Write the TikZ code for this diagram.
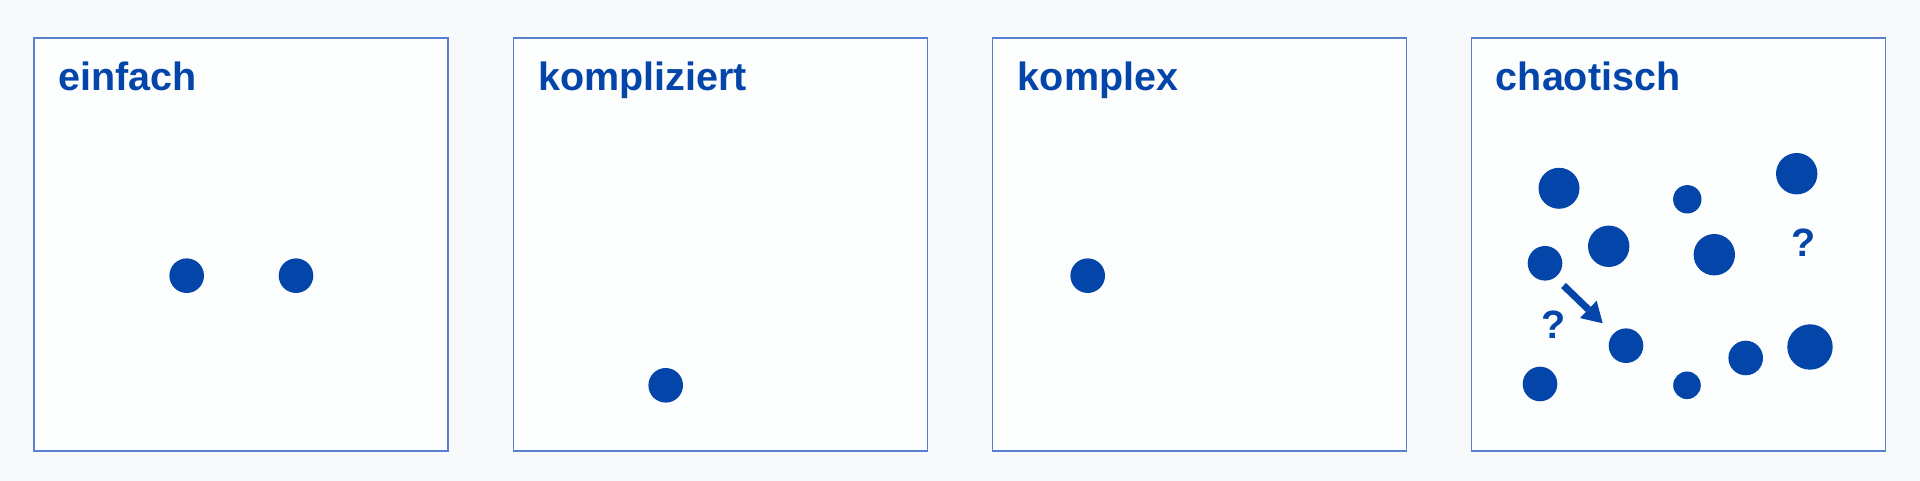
\documentclass[tikz,border=0pt]{standalone}
\usepackage{fontspec}
\setmainfont{Liberation Sans}
\usetikzlibrary{arrows.meta}
\definecolor{paper}{HTML}{F8F9FB}
\definecolor{frameblue}{HTML}{5A80CD}
\definecolor{dotblue}{HTML}{0445AA}
\begin{document}
\begin{tikzpicture}[x=1pt, y=1pt,
    panel/.style={draw=frameblue, line width=1.5pt, fill=white!60!paper},
    title/.style={anchor=base west, inner sep=0pt, text=dotblue,
        font=\fontsize{39.5}{40}\selectfont\bfseries},
    dot/.style={fill=dotblue}]
    \fill[paper] (0,0) rectangle (1920,481);
    \useasboundingbox (0,0) rectangle (1920,481);
    % the four boxes
    \draw[panel] (34,30) rectangle (448,443);
    \draw[panel] (513.3,30) rectangle (927.3,443);
    \draw[panel] (992.3,30) rectangle (1406.7,443);
    \draw[panel] (1471.7,30) rectangle (1885.7,443);
    \node[title] (einfach) at (58.3,390.3) {einfach};
    \node[title] (kompliziert) at (538.3,390.3) {kompliziert};
    \node[title] (komplex) at (1017.7,390.3) {komplex};
    \node[title] (chaotisch) at (1495.7,390.3) {chaotisch};
    % einfach
    \fill[dot] (186.7,205.3) circle (17.3);
    \fill[dot] (296,205.3) circle (17.3);
    % kompliziert
    \fill[dot] (665.7,95.7) circle (17.3);
    % komplex
    \fill[dot] (1087.7,205.3) circle (17.3);
    % chaotisch
    \fill[dot] (1559,292.7) circle (20.5);
    \fill[dot] (1687.3,281.7) circle (14.2);
    \fill[dot] (1796.7,307.3) circle (20.7);
    \fill[dot] (1608.7,234.7) circle (20.7);
    \fill[dot] (1714.3,226.3) circle (20.7);
    \fill[dot] (1545,217.7) circle (17.3);
    \fill[dot] (1626,135.3) circle (17.3);
    \fill[dot] (1745.7,123) circle (17.3);
    \fill[dot] (1810,134) circle (22.7);
    \fill[dot] (1540,97) circle (17.3);
    \fill[dot] (1687,95.7) circle (13.8);
    \node[title, anchor=base] (frage1) at (1803.4,224) {?};
    \node[title, anchor=base] (frage2) at (1553.3,142.7) {?};
    \coordinate (pfeilA) at (1563.5,195.5);
    \coordinate (pfeilB) at (1602.7,157.7);
    \draw[dotblue, line width=7pt,
        -{Triangle[length=20pt,width=24pt,line width=0pt]}] (pfeilA) -- (pfeilB);
\end{tikzpicture}
\end{document}
